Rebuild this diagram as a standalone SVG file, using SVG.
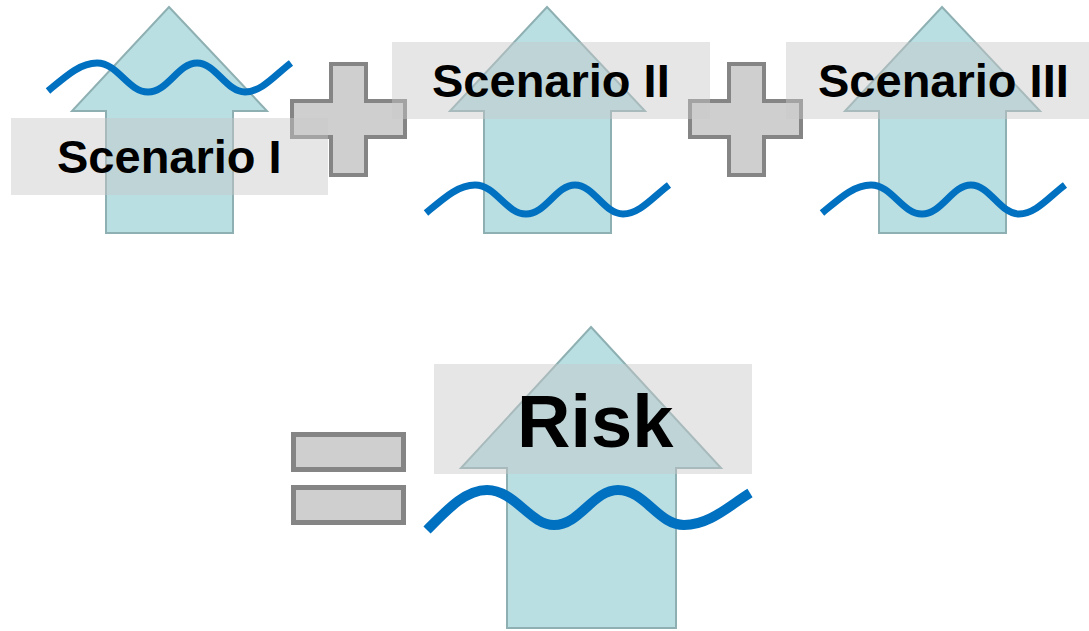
<svg xmlns="http://www.w3.org/2000/svg" width="1089" height="631" viewBox="0 0 1089 631">
<style>
.arrow{fill:#b9dfe3;stroke:#8fb0b3;stroke-width:2;stroke-linejoin:miter}
.wave{fill:none;stroke:#0070c0;stroke-width:7;stroke-linecap:butt}
.op{fill:#cfcfcf;stroke:#858585;stroke-width:4}
.box{fill:#c8c8c8;fill-opacity:0.45}
.lbl{font-family:"Liberation Sans",Arial,sans-serif;font-weight:bold;fill:#000}
</style>
<rect width="1089" height="631" fill="#ffffff"/>
<g id="scenario1">
<polygon class="arrow" points="169,7 267,111 233,111 233,233 106,233 106,111 72,111"/>
<path class="wave" d="M48,91 C66,76 80,63 97,63 C118,63 128,92 148,92 C168,92 178,63 197,63 C216,63 226,92 245,92 C262,92 276,74 291,63"/>
</g>
<g id="scenario2">
<polygon class="arrow" points="547,7 645,111 611,111 611,233 484,233 484,111 450,111"/>
<path class="wave" d="M426,213 C444,198 458,185 475,185 C496,185 506,214 526,214 C546,214 556,185 575,185 C594,185 604,214 623,214 C640,214 654,196 669,185"/>
</g>
<g id="scenario3">
<polygon class="arrow" points="942,7 1040,111 1006,111 1006,233 879,233 879,111 845,111"/>
<path class="wave" d="M822,213 C840,198 854,185 871,185 C892,185 902,214 922,214 C942,214 952,185 971,185 C990,185 1000,214 1019,214 C1036,214 1050,196 1065,185"/>
</g>
<g id="risk">
<polygon class="arrow" points="591,327 721,468 676,468 676,628 507,628 507,468 461,468"/>
<path class="wave" style="stroke-width:10" d="M427,530 C447,510 465,490 487,490 C515,490 530,525 554,525 C580,525 593,490 618,490 C645,490 658,525 684,525 C710,525 730,505 750,493"/>
</g>
<g id="plus1"><path class="op" d="M331,64 H366 V101 H405 V137 H366 V175 H331 V137 H292 V101 H331 Z"/></g>
<g id="plus2"><path class="op" d="M729,64 H764 V101 H801 V137 H764 V175 H729 V137 H690 V101 H729 Z"/></g>
<g id="equals">
<rect class="op" x="293.5" y="434.5" width="110" height="35" style="stroke-width:5"/>
<rect class="op" x="293.5" y="487.5" width="110" height="35" style="stroke-width:5"/>
</g>
<g id="label1"><rect class="box" x="11" y="118" width="317" height="77"/><text class="lbl" x="57" y="173" font-size="47">Scenario I</text></g>
<g id="label2"><rect class="box" x="392" y="42" width="318" height="77"/><text class="lbl" x="432" y="97" font-size="47">Scenario II</text></g>
<g id="label3"><rect class="box" x="786" y="42" width="303" height="77"/><text class="lbl" x="818" y="97" font-size="47">Scenario III</text></g>
<g id="labelRisk"><rect class="box" x="434" y="364" width="318" height="110"/><text class="lbl" x="517" y="447" font-size="74">Risk</text></g>
<g id="connectors"/>
</svg>
